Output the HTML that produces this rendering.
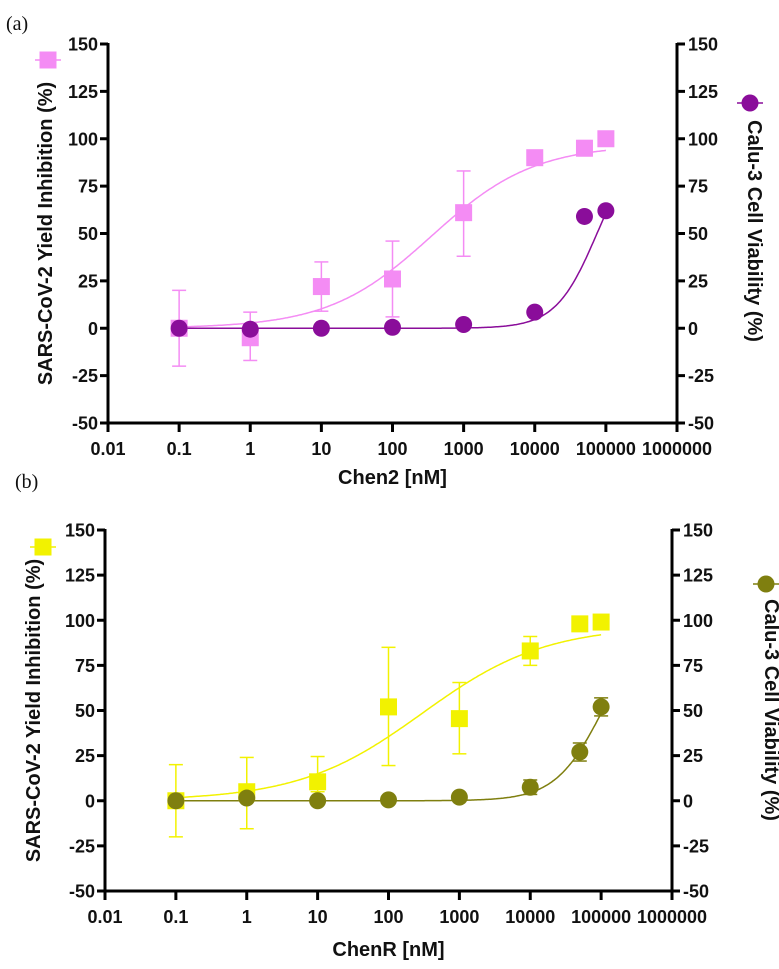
<!DOCTYPE html>
<html><head><meta charset="utf-8"><style>
html,body{margin:0;padding:0;background:#fff;}
svg{display:block;font-family:"Liberation Sans",sans-serif;}
.tk{font-size:18px;font-weight:bold;fill:#111;}
.ttl{font-size:20px;font-weight:bold;fill:#111;}
.pl{font-family:"Liberation Serif",serif;font-size:20px;fill:#111;}
</style></head><body>
<svg id="chart" width="779" height="969" viewBox="0 0 779 969">
<text class="pl" x="6" y="30">(a)</text>
<text class="pl" x="15" y="488">(b)</text>
</svg>
<script>
const xTickVals=[0.01,0.1,1,10,100,1000,10000,100000,1000000];
const xTickLabels=["0.01","0.1","1","10","100","1000","10000","100000","1000000"];
const yTickVals=[-50,-25,0,25,50,75,100,125,150];
const concA=[0.1,1,10,100,1000,10000,50000,100000];
const inhibA=[0,-5,22,26,61,90,95,100];
const inhibAHi=[20,8.5,35,46,83,90,99,100];
const inhibALo=[-20,-17,9,6,38,90,91,100];
const viabA=[0,-0.5,0,0.5,2,8.5,59,62];
const concB=[0.1,1,10,100,1000,10000,50000,100000];
const inhibB=[0,5,10.5,52,45.5,83,98,99];
const inhibBHi=[20,24,24.5,85,65.5,91,98,99];
const inhibBLo=[-20,-15.5,5,19.5,26,75,98,99];
const viabB=[0,1.5,0,0.5,2,7.5,27,52];
const viabBHi=[0,1.5,0,0.5,2,11.5,32,57];
const viabBLo=[0,1.5,0,0.5,2,3.5,22,47];
const fitInhibA=[97,350,0.6];
const fitViabA=[100,75000,1.5];
const fitInhibB=[97,300,0.5];
const fitViabB=[100,105000,1.3];

const NS="http://www.w3.org/2000/svg";
const svg=document.getElementById('chart');
function mk(tag,attrs,parent){const e=document.createElementNS(NS,tag);for(const k in attrs)e.setAttribute(k,attrs[k]);(parent||svg).appendChild(e);return e;}
function hill(p,x){return p[0]/(1+Math.pow(p[1]/x,p[2]));}

function panel(P){
  const g=mk('g',{});
  
  
  const X=v=>P.x0+(Math.log10(v)+2)*(P.x1-P.x0)/8;
  const Y=v=>P.y0-(v+50)*(P.y0-P.y1)/200;
  let a=mk('line',{x1:P.x0,y1:P.y1-1,x2:P.x0,y2:P.y0+1.5,stroke:'#000','stroke-width':3},g);
  
  
  a=mk('line',{x1:P.x1,y1:P.y1-1,x2:P.x1,y2:P.y0+1.5,stroke:'#000','stroke-width':3},g);
  
  
  a=mk('line',{x1:P.x0-1.5,y1:P.y0,x2:P.x1+1.5,y2:P.y0,stroke:'#000','stroke-width':3},g);
  
  
  yTickVals.forEach(v=>{
    const y=Y(v);
    mk('line',{x1:P.x0-8,y1:y,x2:P.x0,y2:y,stroke:'#000','stroke-width':3},g);
    mk('line',{x1:P.x1,y1:y,x2:P.x1+8,y2:y,stroke:'#000','stroke-width':3},g);
    let t=mk('text',{x:P.x0-10,y:y+6.5,'text-anchor':'end',class:'tk'},g);t.textContent=v;
    
    
    t=mk('text',{x:P.x1+11,y:y+6.5,'text-anchor':'start',class:'tk'},g);t.textContent=v;
    
    
  });
  xTickVals.forEach((v,i)=>{
    const x=X(v);
    mk('line',{x1:x,y1:P.y0,x2:x,y2:P.y0+9,stroke:'#000','stroke-width':3},g);
    const t=mk('text',{x:x,y:P.y0+32,'text-anchor':'middle',class:'tk'},g);t.textContent=xTickLabels[i];
    
    
  });
  let t=mk('text',{x:(P.x0+P.x1)/2,y:P.xt,'text-anchor':'middle',class:'ttl'},g);t.textContent=P.xtitle;
  
  
  const cy=(P.y0+P.y1)/2;
  t=mk('text',{x:P.ylx,y:cy,'text-anchor':'middle',class:'ttl',transform:`rotate(-90 ${P.ylx} ${cy})`},g);t.textContent='SARS-CoV-2 Yield Inhibition (%)';
  
  
  t=mk('text',{x:P.yrx,y:P.yrc,'text-anchor':'middle',class:'ttl',transform:`rotate(90 ${P.yrx} ${P.yrc})`},g);t.textContent='Calu-3 Cell Viability (%)';
  
  
  const lg1=mk('g',{},g);
  
  
  mk('line',{x1:P.lsx-13,y1:P.lsy,x2:P.lsx+13,y2:P.lsy,stroke:P.c1,'stroke-width':1.5},lg1);
  mk('rect',{x:P.lsx-8.5,y:P.lsy-8.5,width:17,height:17,fill:P.c1},lg1);
  const lg2=mk('g',{},g);
  
  
  mk('line',{x1:P.lcx-13,y1:P.lcy,x2:P.lcx+13,y2:P.lcy,stroke:P.c2,'stroke-width':1.5},lg2);
  mk('circle',{cx:P.lcx,cy:P.lcy,r:8.5,fill:P.c2},lg2);
  function curve(p,col,name){
    let d='';
    for(let i=0;i<=300;i++){const lx=-1+i*6/300;const v=Math.pow(10,lx);d+=(i?'L':'M')+X(v).toFixed(1)+','+Y(hill(p,v)).toFixed(1);}
    const c=mk('path',{d:d,fill:'none',stroke:col,'stroke-width':1.5},g);
    
    
  }
  curve(P.f1,P.c1,'inhibition-fit-curve');
  curve(P.f2,P.c2,'viability-fit-curve');
  function err(conc,hi,lo,col,name){
    conc.forEach((c,i)=>{
      if(hi[i]===lo[i])return;
      const x=X(c);
      const e=mk('g',{stroke:col,'stroke-width':1.5},g);
      
      
      mk('line',{x1:x,y1:Y(hi[i]),x2:x,y2:Y(lo[i])},e);
      mk('line',{x1:x-7,y1:Y(hi[i]),x2:x+7,y2:Y(hi[i])},e);
      mk('line',{x1:x-7,y1:Y(lo[i]),x2:x+7,y2:Y(lo[i])},e);
    });
  }
  err(P.conc,P.ihi,P.ilo,P.c1,'inhibition-error-bar');
  if(P.vhi)err(P.conc,P.vhi,P.vlo,P.c2,'viability-error-bar');
  P.conc.forEach((c,i)=>{
    const r=mk('rect',{x:X(c)-8.5,y:Y(P.inh[i])-8.5,width:17,height:17,fill:P.c1},g);
    
    
  });
  P.conc.forEach((c,i)=>{
    const r=mk('circle',{cx:X(c),cy:Y(P.via[i]),r:8.5,fill:P.c2},g);
    
    
  });
}
panel({name:'panel-a-chart',x0:108,x1:677,y0:423,y1:44,xt:484,xtitle:'Chen2 [nM]',ylx:52,yrx:748,yrc:231,
  lsx:48,lsy:60,lcx:750,lcy:103,c1:'#f48cf4',c2:'#8a0d9a',f1:fitInhibA,f2:fitViabA,
  conc:concA,inh:inhibA,ihi:inhibAHi,ilo:inhibALo,via:viabA});
panel({name:'panel-b-chart',x0:105,x1:672,y0:891,y1:530,xt:956,xtitle:'ChenR [nM]',ylx:40,yrx:765,yrc:710,
  lsx:43,lsy:547,lcx:766,lcy:584,c1:'#f2f200',c2:'#7f7f0f',f1:fitInhibB,f2:fitViabB,
  conc:concB,inh:inhibB,ihi:inhibBHi,ilo:inhibBLo,via:viabB,vhi:viabBHi,vlo:viabBLo});
</script>
</body></html>
